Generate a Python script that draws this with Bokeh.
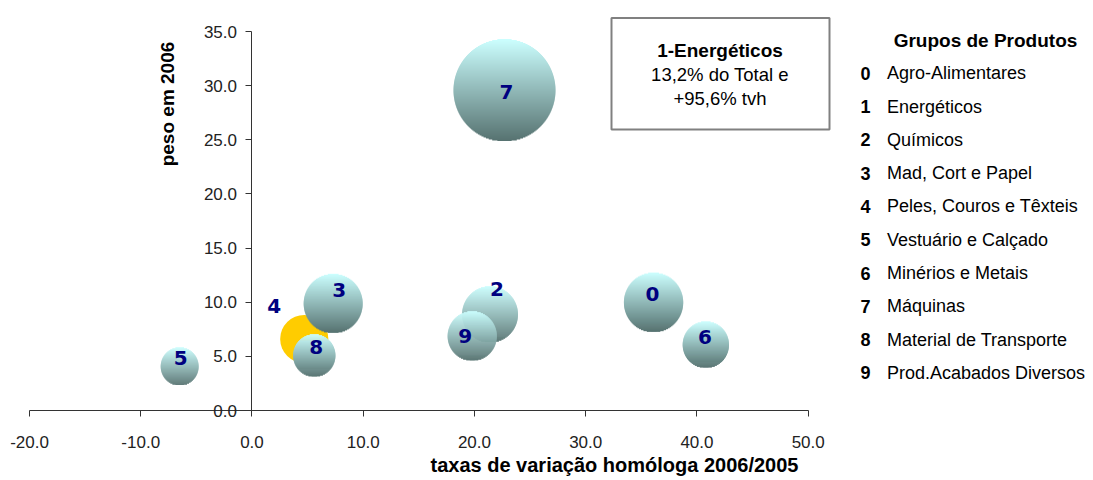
import math
from bokeh.plotting import figure
from bokeh.models import ColumnDataSource, Range1d, LinearAxis, FixedTicker, PrintfTickFormatter
from bokeh.core.properties import value
from bokeh.embed import file_html
from bokeh.resources import INLINE

# ---------------- data ----------------
codes = ["0", "1", "2", "3", "4", "5", "6", "7", "8", "9"]
names = ["Agro-Alimentares", "Energéticos", "Químicos", "Mad, Cort e Papel",
         "Peles, Couros e Têxteis", "Vestuário e Calçado", "Minérios e Metais",
         "Máquinas", "Material de Transporte", "Prod.Acabados Diversos"]
tvh = [36.1, 95.6, 21.4, 7.3, 4.7, -6.5, 40.8, 22.7, 5.6, 19.8]   # taxa de variação homóloga (%)
peso = [10.0, 13.2, 8.9, 9.9, 6.6, 4.1, 6.1, 29.6, 5.1, 6.9]      # peso em 2006 (%)
x_ticks = [-20, -10, 0, 10, 20, 30, 40, 50]
y_ticks = [0, 5, 10, 15, 20, 25, 30, 35]
highlight_code = "4"
box_code = "1"

# label nudges (screen px) – styling only
label_dx = [-1, 0, 7, 6, -30, 1, -1, 2, 2, -7]
label_dy = [-8, 0, -25, -13, -33, -8, -7, 2, -8, 0]

# ---------------- layout ----------------
W, H = 1093, 480
XMIN, XMAX = -20, 50
YMIN, YMAX = 0, 35
SX = 11.124   # px per x unit
SY = 10.829   # px per y unit
X0 = XMIN - 29 / SX
X1 = X0 + W / SX
Y1 = YMAX + 31 / SY
Y0 = Y1 - H / SY


def px(xp):
    return X0 + xp / SX


def py(yp):
    return Y1 - yp / SY


FONT = "Liberation Sans"

p = figure(width=W, height=H, x_range=Range1d(X0, X1), y_range=Range1d(Y0, Y1),
           output_backend="svg", toolbar_location=None,
           x_axis_type=None, y_axis_type=None, min_border=0,
           outline_line_color=None)
p.background_fill_color = "white"

# ---------------- axes ----------------
xa = LinearAxis(fixed_location=0, bounds=(XMIN, XMAX),
                ticker=FixedTicker(ticks=x_ticks, minor_ticks=[]),
                formatter=PrintfTickFormatter(format="%.1f"))
ya = LinearAxis(fixed_location=0, bounds=(YMIN, YMAX),
                ticker=FixedTicker(ticks=y_ticks, minor_ticks=[]),
                formatter=PrintfTickFormatter(format="%.1f"))
for ax, stand in ((xa, 19), (ya, 9)):
    ax.axis_line_color = "#333333"
    ax.major_tick_line_color = "#333333"
    ax.major_tick_out = 6
    ax.major_tick_in = 0
    ax.minor_tick_line_color = None
    ax.major_label_text_font = FONT
    ax.major_label_text_font_size = "17px"
    ax.major_label_text_color = "#222222"
    ax.major_label_standoff = stand
p.add_layout(xa, "below")
p.add_layout(ya, "left")

# ---------------- bubbles ----------------
plotted = [i for i in range(len(codes)) if XMIN <= tvh[i] <= XMAX]
pmax = max(peso[i] for i in plotted)
RMAX = 51.0

top_c = (204, 255, 255)
bot_c = (86, 114, 112)


def mix(t):
    r = [round(a + (b - a) * t) for a, b in zip(top_c, bot_c)]
    return "#%02x%02x%02x" % tuple(r)


hl = [i for i in plotted if codes[i] == highlight_code]
for i in hl:
    r = RMAX * math.sqrt(peso[i] / pmax)
    p.scatter(x=[tvh[i]], y=[peso[i]], size=2 * r, marker="circle",
              fill_color="#FFCC00", line_color=None)

others = sorted([i for i in plotted if codes[i] != highlight_code],
                key=lambda i: -peso[i])
L, R, T, B, C = [], [], [], [], []
for i in others:
    r = RMAX * math.sqrt(peso[i] / pmax)
    d = 2 * r
    n = int(math.ceil(d))
    for k in range(n):
        t0 = k
        t1 = min(k + 1.0, d)
        mid = (t0 + t1) / 2 - r
        w = math.sqrt(max(r * r - mid * mid, 0.0))
        L.append(tvh[i] - w / SX)
        R.append(tvh[i] + w / SX)
        T.append(peso[i] + (r - t0) / SY)
        B.append(peso[i] + (r - min(t1 + 0.6, d)) / SY)
        C.append(mix((mid + r) / d))
p.quad(left=L, right=R, top=T, bottom=B, fill_color=C, line_color=None)

lab = ColumnDataSource(dict(
    x=[tvh[i] for i in plotted], y=[peso[i] for i in plotted],
    t=[codes[i] for i in plotted],
    dx=[label_dx[i] for i in plotted], dy=[label_dy[i] for i in plotted]))
p.text(x="x", y="y", text="t", x_offset="dx", y_offset="dy", source=lab,
       text_align="center", text_baseline="middle",
       text_font=value("DejaVu Sans"), text_font_style="bold",
       text_font_size="20px", text_color="#000080")

# ---------------- axis titles ----------------
p.text(x=[px(167)], y=[py(103.5)], text=["peso em 2006"], angle=math.pi / 2,
       text_align="center", text_baseline="middle", text_font=value(FONT),
       text_font_style="bold", text_font_size="19px", text_color="black")
p.text(x=[px(614)], y=[py(464)], text=["taxas de variação homóloga 2006/2005"],
       text_align="center", text_baseline="middle", text_font=value(FONT),
       text_font_style="bold", text_font_size="20px", text_color="black")

# ---------------- info box ----------------
bi = codes.index(box_code)
p.quad(left=[px(611)], right=[px(829)], top=[py(17.5)], bottom=[py(129)],
       fill_color="white", line_color="#808080", line_width=2)


def fmt(v):
    return ("%.1f" % v).replace(".", ",")


p.text(x=[px(719.5)], y=[py(49.5)], text=["%s-%s" % (codes[bi], names[bi])],
       text_align="center", text_baseline="middle", text_font=value(FONT),
       text_font_style="bold", text_font_size="19px", text_color="black")
p.text(x=[px(719.5), px(719.5)], y=[py(74), py(97.5)],
       text=["%s%% do Total e" % fmt(peso[bi]), "+%s%% tvh" % fmt(tvh[bi])],
       text_align="center", text_baseline="middle", text_font=value(FONT),
       text_font_size="18.5px", text_color="black")

# ---------------- legend ----------------
p.text(x=[px(985)], y=[py(40)], text=["Grupos de Produtos"],
       text_align="center", text_baseline="middle", text_font=value(FONT),
       text_font_style="bold", text_font_size="19px", text_color="black")
leg = ColumnDataSource(dict(
    xc=[px(860)] * len(codes), xn=[px(886.5)] * len(codes),
    y=[py(72.7 + 33.3 * k) for k in range(len(codes))],
    c=codes, n=names))
p.text(x="xc", y="y", text="c", source=leg, text_align="left", text_baseline="middle",
       text_font=value(FONT), text_font_style="bold", text_font_size="18px",
       text_color="black")
p.text(x="xn", y="y", text="n", source=leg, text_align="left", text_baseline="middle",
       text_font=value(FONT), text_font_size="18px", text_color="black")

open("out.html", "w").write(file_html(p, INLINE))
